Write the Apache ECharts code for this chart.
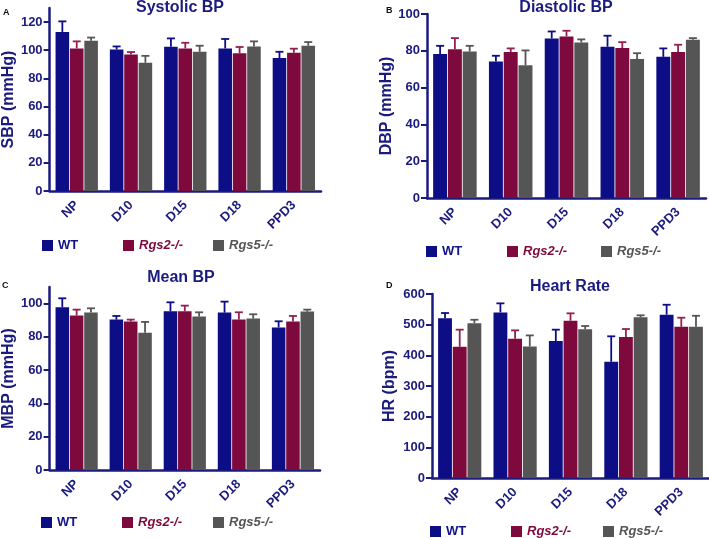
<!DOCTYPE html>
<html><head><meta charset="utf-8">
<script src="https://cdn.jsdelivr.net/npm/echarts@6/dist/echarts.min.js"></script>
<style>html,body{margin:0;padding:0;background:#fff}#c{width:709px;height:538px}</style>
</head><body><div id="c"></div>
<script>
const categories = ['NP', 'D10', 'D15', 'D18', 'PPD3'];
const groups = ['WT', 'Rgs2-/-', 'Rgs5-/-'];

// Systolic BP (mean, SEM)
const sbpWT = [113, 100.6, 102.5, 101.3, 94.5];
const sbpWTsem = [7.5, 2.1, 5.9, 6.7, 4.4];
const sbpRgs2 = [101.3, 97, 101.3, 97.8, 98.2];
const sbpRgs2sem = [5, 1.7, 4, 4.5, 2.9];
const sbpRgs5 = [106.7, 91.1, 98.9, 102.7, 103.2];
const sbpRgs5sem = [2.3, 4.9, 4.3, 3.6, 2.6];

// Diastolic BP
const dbpWT = [78.2, 74.2, 86.7, 82.2, 76.7];
const dbpWTsem = [4.5, 3.1, 3.8, 6, 4.6];
const dbpRgs2 = [80.9, 79.3, 87.8, 81.5, 79.3];
const dbpRgs2sem = [6, 2, 3.1, 3.2, 4];
const dbpRgs5 = [79.6, 72.2, 84.5, 75.6, 86];
const dbpRgs5sem = [3.1, 8, 1.7, 3.1, 0.9];

// Mean BP
const mbpWT = [97.8, 90.4, 95.4, 94.6, 85.7];
const mbpWTsem = [5.4, 2.2, 5.4, 6.6, 3.7];
const mbpRgs2 = [92.8, 89.2, 95.4, 90.4, 89.2];
const mbpRgs2sem = [3.6, 1.2, 3.4, 4.4, 3.4];
const mbpRgs5 = [94.6, 82.5, 92.2, 91, 95.2];
const mbpRgs5sem = [2.6, 6.5, 2.6, 2.6, 1.2];

// Heart rate
const hrWT = [520.7, 540, 446.7, 379, 532.5];
const hrWTsem = [17.3, 29.5, 37, 83, 32.5];
const hrRgs2 = [428, 454, 513, 459.7, 493];
const hrRgs2sem = [55.7, 27.5, 24, 26.1, 29.7];
const hrRgs5 = [505, 429, 484.7, 524, 493];
const hrRgs5sem = [11, 36, 10.9, 6.5, 36];

const sbpTicks = [0, 20, 40, 60, 80, 100, 120];
const dbpTicks = [0, 20, 40, 60, 80, 100];
const mbpTicks = [0, 20, 40, 60, 80, 100];
const hrTicks = [0, 100, 200, 300, 400, 500, 600];

const panels = [
  {title: 'Systolic BP', letter: 'A', yName: 'SBP (mmHg)', max: 130, ticks: sbpTicks,
   means: [sbpWT, sbpRgs2, sbpRgs5], sems: [sbpWTsem, sbpRgs2sem, sbpRgs5sem],
   grid: {left: 43, top: 8, width: 278, height: 183}, nameGap: 29,
   titlePos: [180, 0], letterPos: [3, 8], legendTop: 239, legendX: [42, 123, 213]},
  {title: 'Diastolic BP', letter: 'B', yName: 'DBP (mmHg)', max: 100, ticks: dbpTicks,
   means: [dbpWT, dbpRgs2, dbpRgs5], sems: [dbpWTsem, dbpRgs2sem, dbpRgs5sem],
   grid: {left: 427, top: 14, width: 279, height: 184}, nameGap: 30,
   titlePos: [566, 0], letterPos: [386, 6], legendTop: 245, legendX: [426, 507, 601]},
  {title: 'Mean BP', letter: 'C', yName: 'MBP (mmHg)', max: 110, ticks: mbpTicks,
   means: [mbpWT, mbpRgs2, mbpRgs5], sems: [mbpWTsem, mbpRgs2sem, mbpRgs5sem],
   grid: {left: 44, top: 287, width: 276, height: 183}, nameGap: 31,
   titlePos: [181, 270], letterPos: [2, 281], legendTop: 516, legendX: [41, 122, 213]},
  {title: 'Heart Rate', letter: 'D', yName: 'HR (bpm)', max: 600, ticks: hrTicks,
   means: [hrWT, hrRgs2, hrRgs5], sems: [hrWTsem, hrRgs2sem, hrRgs5sem],
   grid: {left: 432, top: 294, width: 277, height: 184}, nameGap: 34,
   titlePos: [570, 279], letterPos: [386, 281], legendTop: 525, legendX: [430, 511, 603]}
];

const navy = '#1b1b7f';
const colors = ['#0d0d86', '#7e0a3d', '#555555'];
const errColors = ['#0d0d86', '#93204f', '#555555'];
const legendText = [
  {color: '#14148a', fontWeight: 'bold', fontStyle: 'normal'},
  {color: '#7e0a3d', fontWeight: 'bold', fontStyle: 'italic'},
  {color: '#555555', fontWeight: 'bold', fontStyle: 'italic'}
];
const CAT_GAP = 0.22, BAR_GAP = 0.06;
const FONT = 'Liberation Sans, Arial, sans-serif';

const option = {
  animation: false,
  textStyle: {fontFamily: FONT},
  grid: [], xAxis: [], yAxis: [], series: [], legend: [], graphic: []
};

panels.forEach((p, pi) => {
  option.grid.push(Object.assign({containLabel: false}, p.grid));
  option.xAxis.push({
    type: 'category', gridIndex: pi, data: categories,
    axisLine: {lineStyle: {color: navy, width: 2.5}},
    axisTick: {alignWithLabel: true, length: 5, lineStyle: {color: navy, width: 2}},
    axisLabel: {rotate: 45, margin: 12, color: navy, fontWeight: 'bold', fontSize: 13, fontFamily: FONT}
  });
  option.yAxis.push({
    type: 'value', gridIndex: pi, min: 0, max: p.max,
    name: p.yName, nameLocation: 'middle', nameGap: p.nameGap,
    nameTextStyle: {color: navy, fontWeight: 'bold', fontSize: 16, fontFamily: FONT},
    splitLine: {show: false},
    axisLine: {show: true, lineStyle: {color: navy, width: 2.5}},
    axisTick: {show: true, length: 6, lineStyle: {color: navy, width: 2}, customValues: p.ticks},
    axisLabel: {color: navy, fontWeight: 'bold', fontSize: 13, margin: 7, fontFamily: FONT, customValues: p.ticks}
  });
  groups.forEach((g, gi) => {
    option.series.push({
      type: 'bar', name: g, xAxisIndex: pi, yAxisIndex: pi,
      data: p.means[gi], barCategoryGap: (CAT_GAP * 100) + '%', barGap: (BAR_GAP * 100) + '%',
      itemStyle: {color: colors[gi]}, z: 2
    });
  });
  groups.forEach((g, gi) => {
    const data = categories.map((c, ci) => [ci, p.means[gi][ci], p.means[gi][ci] + p.sems[gi][ci]]);
    option.series.push({
      type: 'custom', name: g + ' SEM', xAxisIndex: pi, yAxisIndex: pi, z: 3,
      data: data,
      renderItem: function (params, api) {
        const ci = api.value(0);
        const base = api.coord([ci, api.value(1)]);
        const top = api.coord([ci, api.value(2)]);
        const band = api.size([1, 0])[0];
        const groupW = band * (1 - CAT_GAP);
        const bw = groupW / (3 + 2 * BAR_GAP);
        const cx = base[0] - groupW / 2 + bw / 2 + gi * bw * (1 + BAR_GAP);
        const capHalf = 4;
        const st = {stroke: errColors[gi], lineWidth: 1.8};
        return {
          type: 'group',
          children: [
            {type: 'line', shape: {x1: cx, y1: base[1], x2: cx, y2: top[1]}, style: st},
            {type: 'line', shape: {x1: cx - capHalf, y1: top[1], x2: cx + capHalf, y2: top[1]}, style: st}
          ]
        };
      }
    });
  });
  groups.forEach((g, gi) => {
    option.legend.push({
      left: p.legendX[gi], top: p.legendTop, orient: 'horizontal', padding: 0,
      icon: 'rect', itemWidth: 11, itemHeight: 11, itemGap: 0, selectedMode: false,
      data: [{name: g, textStyle: Object.assign({fontSize: 13, fontFamily: FONT}, legendText[gi])}]
    });
  });
  option.graphic.push({
    type: 'text', x: p.titlePos[0], y: p.titlePos[1],
    style: {text: p.title, fill: navy, font: 'bold 16px ' + FONT, textAlign: 'center', textVerticalAlign: 'top'}
  });
  option.graphic.push({
    type: 'text', x: p.letterPos[0], y: p.letterPos[1],
    style: {text: p.letter, fill: '#111', font: 'bold 9px ' + FONT, textAlign: 'left', textVerticalAlign: 'top'}
  });
});

const chart = echarts.init(document.getElementById('c'), null, {renderer: 'canvas'});
chart.setOption(option);
</script>
</body></html>
